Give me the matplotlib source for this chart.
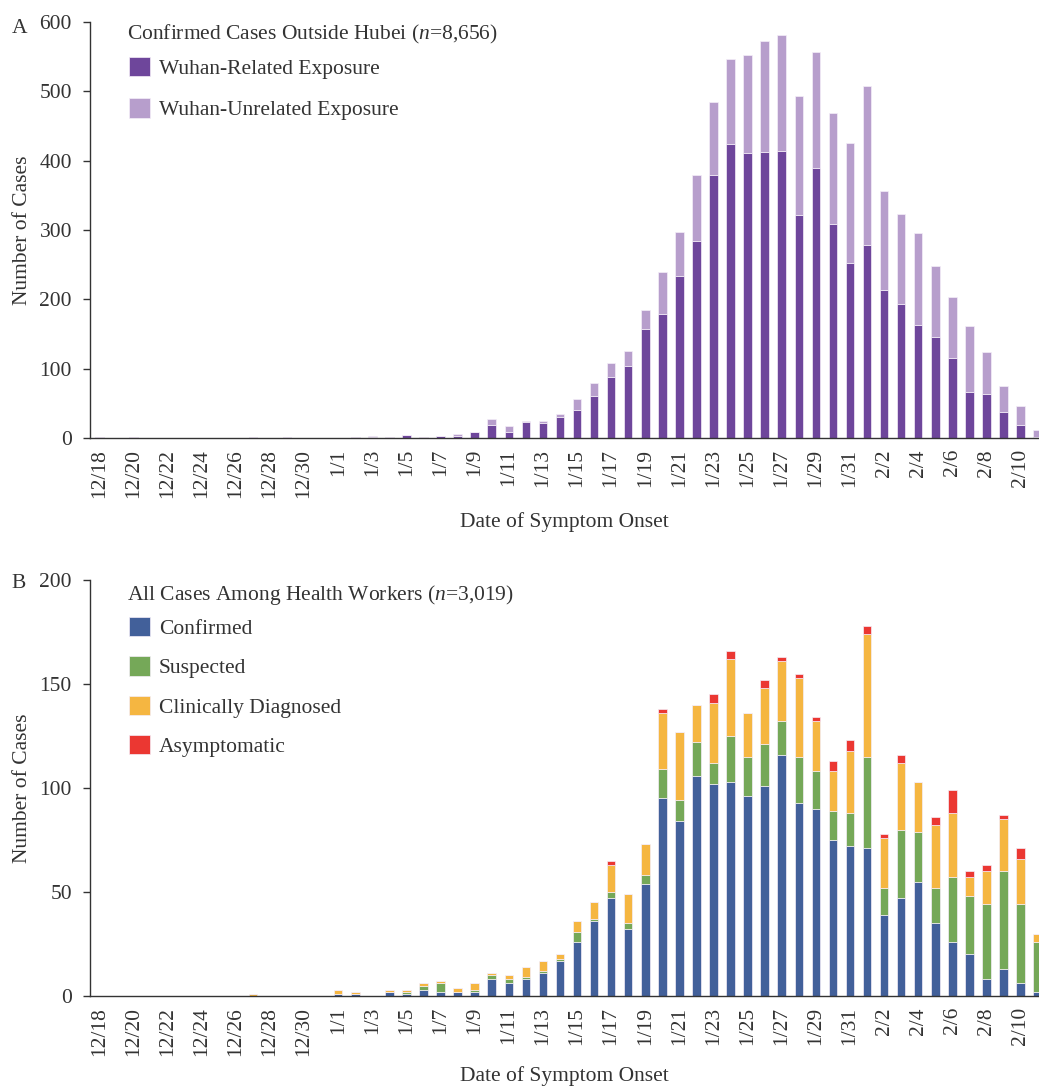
import matplotlib
matplotlib.use('Agg')
import matplotlib.pyplot as plt
import numpy as np

# days 12/18 .. 2/11
dates = ['12/18', '12/19', '12/20', '12/21', '12/22', '12/23', '12/24', '12/25',
         '12/26', '12/27', '12/28', '12/29', '12/30', '12/31',
         '1/1', '1/2', '1/3', '1/4', '1/5', '1/6', '1/7', '1/8', '1/9', '1/10',
         '1/11', '1/12', '1/13', '1/14', '1/15', '1/16', '1/17', '1/18', '1/19',
         '1/20', '1/21', '1/22', '1/23', '1/24', '1/25', '1/26', '1/27', '1/28',
         '1/29', '1/30', '1/31', '2/1', '2/2', '2/3', '2/4', '2/5', '2/6', '2/7',
         '2/8', '2/9', '2/10', '2/11']

# Panel A: outside Hubei
wuhan_related = [1, 0, 1, 0, 0, 0, 0, 0, 0, 1, 0, 1, 0, 0,
                 0, 2, 1, 2, 4, 1, 3, 3, 8, 19, 9, 23, 21, 30, 41, 60, 88, 104, 157,
                 179, 234, 284, 380, 424, 411, 412, 414, 322, 390, 308, 252,
                 279, 213, 193, 163, 145, 115, 67, 63, 38, 19, 1]
wuhan_unrelated = [0, 0, 0, 0, 0, 0, 0, 0, 0, 0, 0, 0, 0, 0,
                   0, 0, 2, 0, 0, 0, 0, 3, 0, 8, 9, 2, 3, 5, 15, 20, 20, 22, 27,
                   60, 63, 96, 105, 123, 142, 161, 167, 171, 167, 161, 173,
                   229, 144, 130, 132, 103, 88, 95, 61, 37, 27, 10]

# Panel B: health workers
confirmed = [0, 0, 0, 0, 0, 0, 0, 0, 0, 0, 0, 0, 0, 0,
             1, 1, 0, 2, 1, 3, 2, 2, 2, 8, 6, 8, 11, 17, 26, 36, 47, 32, 54,
             95, 84, 106, 102, 103, 96, 101, 116, 93, 90, 75, 72,
             71, 39, 47, 55, 35, 26, 20, 8, 13, 6, 2]
suspected = [0, 0, 0, 0, 0, 0, 0, 0, 0, 0, 0, 0, 0, 0,
             0, 0, 0, 0, 1, 2, 4, 0, 1, 2, 2, 1, 1, 1, 5, 1, 3, 3, 4,
             14, 10, 16, 10, 22, 19, 20, 16, 22, 18, 14, 16,
             44, 13, 33, 24, 17, 31, 28, 36, 47, 38, 24]
clinical = [0, 0, 0, 0, 0, 0, 0, 0, 0, 1, 0, 0, 0, 0,
            2, 1, 0, 1, 1, 1, 1, 2, 3, 1, 2, 5, 5, 2, 5, 8, 13, 14, 15,
            27, 33, 18, 29, 37, 21, 27, 29, 38, 24, 19, 30,
            59, 24, 32, 24, 30, 31, 9, 16, 25, 22, 4]
asymptomatic = [0, 0, 0, 0, 0, 0, 0, 0, 0, 0, 0, 0, 0, 0,
                0, 0, 0, 0, 0, 0, 0, 0, 0, 0, 0, 0, 0, 0, 0, 0, 2, 0, 0,
                2, 0, 0, 4, 4, 0, 4, 2, 2, 2, 5, 5,
                4, 2, 4, 0, 4, 11, 3, 3, 2, 5, 0]

plt.rcParams['font.family'] = 'Liberation Serif'
plt.rcParams['mathtext.fontset'] = 'custom'
plt.rcParams['mathtext.rm'] = 'Liberation Serif'
plt.rcParams['mathtext.it'] = 'Liberation Serif:italic'
txt = '#333333'
fs = 15.5

fig = plt.figure(figsize=(10.39, 10.86), dpi=100)
axA = fig.add_axes([0.0866, 0.5967, 0.9134, 0.383])
axB = fig.add_axes([0.0866, 0.0829, 0.9134, 0.383])

x = np.arange(len(dates))
w = 0.5
ekw = dict(edgecolor='#f4eef8', linewidth=0.5)

bA1 = axA.bar(x, wuhan_related, w, color='#6E469B', **ekw)
bA2 = axA.bar(x, wuhan_unrelated, w, bottom=wuhan_related, color='#B79ECC', **ekw)

c = np.array(confirmed)
s = np.array(suspected)
cl = np.array(clinical)
a = np.array(asymptomatic)
bB1 = axB.bar(x, c, w, color='#42609A', **ekw)
bB2 = axB.bar(x, s, w, bottom=c, color='#75A858', **ekw)
bB3 = axB.bar(x, cl, w, bottom=c + s, color='#F5B641', **ekw)
bB4 = axB.bar(x, a, w, bottom=c + s + cl, color='#EB3732', **ekw)

for ax, ymax, step, lp in [(axA, 600, 100, 10), (axB, 200, 50, 7)]:
    ax.set_xlim(-0.55, 55.08)
    ax.set_ylim(0, ymax)
    ax.set_yticks(np.arange(0, ymax + 1, step))
    ax.set_xticks(x[::2])
    ax.set_xticklabels(dates[::2], rotation=90)
    ax.tick_params(axis='x', length=0, pad=8, labelsize=fs, colors=txt)
    ax.tick_params(axis='y', length=5, width=1, pad=8, labelsize=fs, colors=txt)
    for sp in ['top', 'right']:
        ax.spines[sp].set_visible(False)
    for sp in ['left', 'bottom']:
        ax.spines[sp].set_color(txt)
        ax.spines[sp].set_linewidth(1)
    ax.set_ylabel('Number of Cases', fontsize=fs, color=txt, labelpad=5)
    ax.set_xlabel('Date of Symptom Onset', fontsize=fs, color=txt, labelpad=lp)

legA = axA.legend([bA1, bA2], ['Wuhan-Related Exposure', 'Wuhan-Unrelated Exposure'],
                  loc='upper left', bbox_to_anchor=(0.041, 0.916), frameon=False,
                  fontsize=fs, handlelength=1.0, handleheight=1.0, handletextpad=0.4,
                  labelspacing=0.9, borderpad=0, borderaxespad=0)
legB = axB.legend([bB1, bB2, bB3, bB4],
                  ['Confirmed', 'Suspected', 'Clinically Diagnosed', 'Asymptomatic'],
                  loc='upper left', bbox_to_anchor=(0.041, 0.911), frameon=False,
                  fontsize=fs, handlelength=1.0, handleheight=1.0, handletextpad=0.4,
                  labelspacing=0.8, borderpad=0, borderaxespad=0)
for leg in (legA, legB):
    for t in leg.get_texts():
        t.set_color(txt)

axA.text(0.039, 0.969, 'Confirmed Cases Outside Hubei ($\\it{n}$=8,656)',
         transform=axA.transAxes, fontsize=fs, color=txt, ha='left', va='center')
axB.text(0.039, 0.964, 'All Cases Among Health Workers ($\\it{n}$=3,019)',
         transform=axB.transAxes, fontsize=fs, color=txt, ha='left', va='center')

fig.text(0.011, 0.974, 'A', fontsize=fs, color=txt, ha='left', va='center')
fig.text(0.011, 0.463, 'B', fontsize=fs, color=txt, ha='left', va='center')

fig.savefig('out.png', dpi=100)
